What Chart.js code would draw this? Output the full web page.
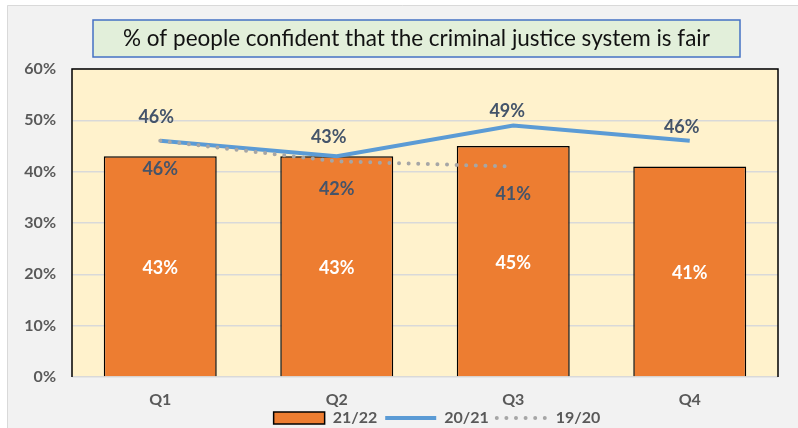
<!DOCTYPE html>
<html>
<head>
<meta charset="utf-8">
<script src="https://cdn.jsdelivr.net/npm/chart.js@4.4.1/dist/chart.umd.min.js"></script>
<style>
  html, body { margin: 0; padding: 0; background: #ffffff; }
  #wrap { position: relative; width: 798px; height: 428px; }
  canvas { display: block; }
</style>
</head>
<body>
<div id="wrap"><canvas id="confChart" width="798" height="428"></canvas></div>
<script>
const quarters = ['Q1', 'Q2', 'Q3', 'Q4'];
const year2122 = [43, 43, 45, 41];
const year2021 = [46, 43, 49, 46];
const year1920 = [46, 42, 41, null];
const yTicks = [0, 10, 20, 30, 40, 50, 60];

const chartTitle = '% of people confident that the criminal justice system is fair';

// label nudges for the 20/21 line (dx, dy from the point)
const lineLabelShift = [[-4, -24], [-8, -19], [-6, -14], [-8, -14]];
const legendShift = 48;

const FONT = 'Lato, "Open Sans", sans-serif';

// grey panel, title box and the yellow plot area
const backdrop = {
    id: 'backdrop',
    afterLayout(chart) {
        chart.legend.left += legendShift;
        chart.legend.right += legendShift;
        chart.legend.top += 1;
        chart.legend.bottom += 1;
    },
    beforeDraw(chart) {
        const { ctx, chartArea: a } = chart;
        ctx.save();
        ctx.fillStyle = '#ffffff';
        ctx.fillRect(0, 0, chart.width, chart.height);
        ctx.fillStyle = '#f2f2f2';
        ctx.fillRect(7, 5, chart.width - 7, chart.height - 5);
        ctx.strokeStyle = '#d9d9d9';
        ctx.lineWidth = 1;
        ctx.beginPath();
        ctx.moveTo(7.5, chart.height);
        ctx.lineTo(7.5, 5.5);
        ctx.lineTo(chart.width, 5.5);
        ctx.stroke();

        // title box
        ctx.fillStyle = '#e2efda';
        ctx.fillRect(93, 20, 647, 37);
        ctx.strokeStyle = '#4472c4';
        ctx.lineWidth = 1.5;
        ctx.strokeRect(93, 20, 647, 37);
        ctx.fillStyle = '#111111';
        ctx.font = '22.5px ' + FONT;
        ctx.textAlign = 'center';
        ctx.textBaseline = 'middle';
        ctx.fillText(chartTitle, 416.5, 39);

        ctx.fillStyle = '#fff2cc';
        ctx.fillRect(a.left, a.top, a.right - a.left, a.bottom - a.top);
        ctx.restore();
    },
    beforeDatasetsDraw(chart) {
        const { ctx, chartArea: a } = chart;
        ctx.save();
        ctx.strokeStyle = '#000000';
        ctx.lineWidth = 1.5;
        ctx.beginPath();
        ctx.moveTo(a.left, a.bottom);
        ctx.lineTo(a.left, a.top);
        ctx.lineTo(a.right, a.top);
        ctx.lineTo(a.right, a.bottom);
        ctx.stroke();
        ctx.restore();
    }
};

// value labels on bars and line points
const valueLabels = {
    id: 'valueLabels',
    afterDatasetsDraw(chart) {
        const ctx = chart.ctx;
        ctx.save();
        ctx.textAlign = 'center';
        ctx.textBaseline = 'middle';
        chart.data.datasets.forEach((ds, i) => {
            const meta = chart.getDatasetMeta(i);
            meta.data.forEach((el, j) => {
                const v = ds.data[j];
                if (v == null) return;
                let x = el.x, y;
                if (i === 0) {
                    y = (el.y + el.base) / 2 + 2;
                    ctx.fillStyle = '#ffffff';
                } else if (i === 1) {
                    x += lineLabelShift[j][0];
                    y = el.y + lineLabelShift[j][1];
                    ctx.fillStyle = '#44546a';
                } else {
                    y = el.y + 28;
                    ctx.fillStyle = '#44546a';
                }
                ctx.font = 'bold 18px ' + FONT;
                ctx.fillText(v + '%', x, y);
            });
        });
        ctx.restore();
    }
};

const ctx = document.getElementById('confChart').getContext('2d');

const confChart = new Chart(ctx, {
    type: 'bar',
    data: {
        labels: quarters,
        datasets: [
            {
                label: '21/22',
                data: year2122,
                backgroundColor: '#ed7d31',
                borderColor: '#000000',
                borderWidth: 1.5,
                barPercentage: 0.8,
                categoryPercentage: 0.8,
                order: 3
            },
            {
                type: 'line',
                label: '20/21',
                data: year2021,
                borderColor: '#5b9bd5',
                backgroundColor: '#5b9bd5',
                borderWidth: 4,
                pointRadius: 0,
                tension: 0,
                order: 2
            },
            {
                type: 'line',
                label: '19/20',
                data: year1920,
                borderColor: '#a6a6a6',
                backgroundColor: '#a6a6a6',
                borderWidth: 4,
                borderDash: [0, 9.6],
                borderCapStyle: 'round',
                pointRadius: 0,
                tension: 0,
                spanGaps: false,
                order: 1
            }
        ]
    },
    options: {
        responsive: false,
        animation: false,
        devicePixelRatio: 1,
        layout: { padding: { left: 0, right: 20, top: 69, bottom: -7 } },
        scales: {
            x: {
                grid: { display: false, drawTicks: false },
                border: { display: false },
                ticks: {
                    mirror: true,
                    padding: -32.6,
                    color: '#595959',
                    font: { family: FONT, size: 16, weight: 'bold' }
                },
                afterFit(scale) { scale.height = 24; }
            },
            y: {
                min: 0,
                max: 60,
                grid: { color: '#d9d9d9', lineWidth: 1.5, drawTicks: false },
                border: { display: false },
                afterBuildTicks(scale) {
                    scale.ticks = yTicks.map(v => ({ value: v }));
                },
                ticks: {
                    padding: 16,
                    color: '#595959',
                    font: { family: FONT, size: 16, weight: 'bold' },
                    callback: v => v + '%'
                },
                afterFit(scale) { scale.width = 72; }
            }
        },
        plugins: {
            title: { display: false },
            tooltip: { enabled: false },
            legend: {
                position: 'bottom',
                labels: {
                    usePointStyle: true,
                    pointStyleWidth: 51,
                    boxHeight: 12,
                    padding: 8,
                    color: '#595959',
                    font: { family: FONT, size: 16, weight: 'bold' },
                    sort: (a, b) => a.datasetIndex - b.datasetIndex,
                    generateLabels(chart) {
                        const items = Chart.defaults.plugins.legend.labels.generateLabels(chart);
                        items.forEach(it => {
                            const ds = chart.data.datasets[it.datasetIndex];
                            it.pointStyle = it.datasetIndex === 0 ? 'rect' : 'line';
                            it.lineDash = ds.borderDash || [];
                            it.lineCap = ds.borderCapStyle || 'butt';
                        });
                        return items;
                    }
                }
            }
        }
    },
    plugins: [backdrop, valueLabels]
});
</script>
</body>
</html>
